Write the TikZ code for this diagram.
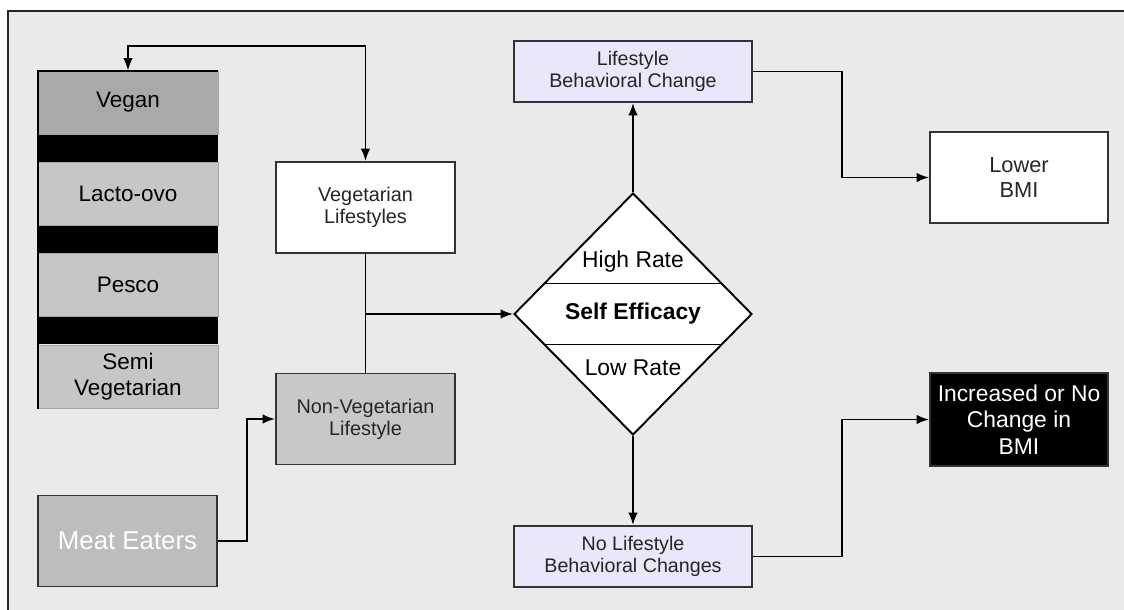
\documentclass[tikz,border=0pt]{standalone}
\usepackage{fontspec}
\setmainfont{Liberation Sans}
\usetikzlibrary{shapes.geometric,arrows.meta,positioning,calc}
\definecolor{frameBg}{HTML}{EAEAEA}
\definecolor{veganGray}{HTML}{A9A9A9}
\definecolor{dietGray}{HTML}{C6C6C6}
\definecolor{nonVegGray}{HTML}{C8C8C8}
\definecolor{meatGray}{HTML}{BDBDBD}
\definecolor{changeBlue}{HTML}{E8E8FA}
\definecolor{lineGray}{HTML}{333333}

\begin{document}
\begin{tikzpicture}[x=0.02cm, y=-0.02cm,
    box/.style={draw=lineGray, line width=1.1pt, minimum width=3.58cm, minimum height=1.82cm, align=center, inner sep=2pt, text=black!85},
    cell/.style={draw=gray!70, fill=dietGray, minimum width=3.6cm, minimum height=1.26cm, align=center, inner sep=0pt, font=\fontsize{12.8}{15.3}\selectfont},
    band/.style={fill=black, minimum width=3.6cm, minimum height=0.54cm, inner sep=0pt},
    change/.style={box, fill=changeBlue, minimum width=4.76cm, minimum height=1.22cm, font=\fontsize{11.2}{12.5}\selectfont},
    arr/.style={-{Latex[length=2.5mm,width=1.9mm]}, line width=1pt},
    dblarr/.style={{Latex[length=2.5mm,width=1.9mm]}-{Latex[length=2.5mm,width=1.9mm]}, line width=1pt},
    link/.style={line width=1pt}
]
\useasboundingbox (0,0) rectangle (1124,609);
\clip (0,0) rectangle (1124,609);
\fill[white] (0,0) rectangle (1124,609);
\draw[fill=frameBg, draw=gray!30!black, line width=1.1pt] (8,11) rectangle (1140,625);

% Diet types
\node[cell, fill=veganGray] (vegan) at (128,102.5) {Vegan};
\node[band, below=0pt of vegan] (bandA) {};
\node[cell, below=0pt of bandA] (lacto) {Lacto-ovo};
\node[band, below=0pt of lacto] (bandB) {};
\node[cell, below=0pt of bandB] (pesco) {Pesco};
\node[band, below=0pt of pesco] (bandC) {};
\node[cell, below=0pt of bandC] (semi) {Semi\\Vegetarian};
\draw[line width=1.3pt] (semi.south west) -- (vegan.north west) -- (vegan.north east);

% Lifestyles
\node[box, fill=white, font=\fontsize{11.3}{12.5}\selectfont] (veg) at (365.5,207.5) {Vegetarian\\Lifestyles};
\node[box, fill=nonVegGray, font=\fontsize{11.3}{12.5}\selectfont] (nonveg) at (365.5,419) {Non-Vegetarian\\Lifestyle};
\node[box, fill=meatGray, text=white, minimum width=3.58cm, font=\fontsize{14.7}{17}\selectfont] (meat) at (127.5,541) {Meat Eaters};

% Self efficacy
\node[diamond, draw=black, line width=1.1pt, fill=white, minimum width=4.76cm, minimum height=4.84cm, inner sep=0pt] (dia) at (633,314) {};
\draw[line width=1.1pt] ($(dia.west)!0.25!(dia.north)$) -- ($(dia.east)!0.25!(dia.north)$);
\draw[line width=1.1pt] ($(dia.west)!0.25!(dia.south)$) -- ($(dia.east)!0.25!(dia.south)$);
\node[font=\fontsize{13}{15}\selectfont] (high) at ($(dia.center)+(0,-52)$) {High Rate};
\node[font=\fontsize{13}{15}\selectfont\bfseries] (self) at (dia.center) {Self Efficacy};
\node[font=\fontsize{13}{15}\selectfont] (low) at ($(dia.center)+(0,54)$) {Low Rate};

% Outcomes
\node[change] (lbc) at (633,71.5) {Lifestyle\\Behavioral Change};
\node[change] (nlbc) at (633,556.5) {No Lifestyle\\Behavioral Changes};
\node[box, fill=white, minimum width=3.56cm, font=\fontsize{12.4}{14.7}\selectfont] (lower) at (1019,177.5) {Lower\\BMI};
\node[box, fill=black, text=white, minimum width=3.56cm, minimum height=1.86cm, font=\fontsize{13}{15}\selectfont] (incr) at (1019,419.5) {Increased or No\\Change in\\BMI};

% Connectors
\coordinate (loop) at (128,46);
\draw[dblarr] (vegan.north) -- (loop) -| (veg.north);
\draw[link] (veg.south) -- (nonveg.north);
\coordinate (join) at (veg.south |- dia.west);
\draw[arr] (join) -- (dia.west);
\draw[arr] (meat.east) -- ++(29,0) |- (nonveg.west);
\draw[arr] (dia.north) -- (lbc.south);
\draw[arr] (lbc.east) -- ++(89,0) |- (lower.west);
\draw[arr] (dia.south) -- (nlbc.north);
\draw[arr] (nlbc.east) -- ++(89,0) |- (incr.west);
\end{tikzpicture}
\end{document}
